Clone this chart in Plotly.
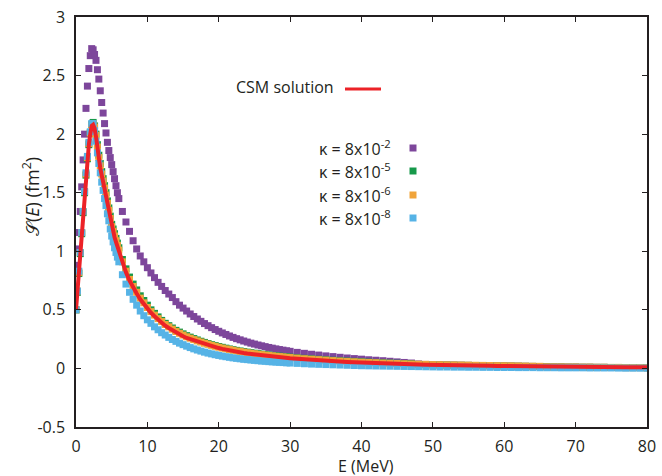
import plotly.graph_objects as go

# ---------------- data ----------------
E = [0.0,0.2,0.4,0.6,0.8,1.0,1.2,1.4,1.6,1.8,2.0,2.2,2.4,2.6,2.8,3.0,3.2,3.4,3.6,3.8,
     4.0,4.2,4.4,4.6,4.8,5.0,5.2,5.4,5.6,5.8,6.0,
     6.5,7.0,7.5,8.0,8.5,9.0,9.5,10.0,10.5,11.0,11.5,12.0,12.5,13.0,13.5,14.0,14.5,15.0,
     15.5,16.0,16.5,17.0,17.5,18.0,18.5,19.0,19.5,20.0,20.5,21.0,21.5,22.0,22.5,23.0,23.5,
     24.0,24.5,25.0,25.5,26.0,26.5,27.0,27.5,28.0,28.5,29.0,29.5,30.0,
     31,32,33,34,35,36,37,38,39,40,41,42,43,44,45,46,47,48,49,50,
     51,52,53,54,55,56,57,58,59,60,61,62,63,64,65,66,67,68,69,70,
     71,72,73,74,75,76,77,78,79,80]

S_csm = [0.50,0.66,0.82,0.98,1.15,1.33,1.50,1.65,1.79,1.91,2.00,2.07,2.08,2.05,1.98,1.88,1.79,1.71,1.65,1.59,
         1.53,1.47,1.40,1.34,1.27,1.20,1.16,1.12,1.08,1.04,1.00,
         0.90,0.82,0.75,0.69,0.64,0.59,0.55,0.51,0.475,0.445,0.415,0.39,0.365,0.345,0.325,0.305,0.29,0.275,
         0.26,0.25,0.238,0.227,0.217,0.207,0.198,0.19,0.182,0.174,0.167,0.16,0.154,0.148,0.142,0.137,0.132,
         0.127,0.123,0.119,0.115,0.111,0.108,0.104,0.101,0.098,0.095,0.092,0.089,0.087,
         0.082,0.077,0.073,0.069,0.065,0.061,0.058,0.055,0.052,0.049,0.047,0.044,0.042,0.040,0.038,0.036,0.035,0.033,0.032,0.030,
         0.029,0.028,0.027,0.026,0.025,0.024,0.023,0.022,0.021,0.020,0.020,0.019,0.018,0.018,0.017,0.016,0.016,0.015,0.015,0.014,
         0.014,0.013,0.013,0.012,0.012,0.012,0.011,0.011,0.010,0.010]

S_k2 = [0.88,1.02,1.16,1.34,1.55,1.78,2.00,2.22,2.41,2.56,2.67,2.73,2.72,2.68,2.63,2.55,2.47,2.37,2.27,2.18,
        2.09,2.01,1.93,1.86,1.80,1.74,1.68,1.62,1.56,1.50,1.45,
        1.34,1.25,1.17,1.09,1.02,0.96,0.91,0.86,0.815,0.775,0.735,0.70,0.665,0.635,0.605,0.57,0.54,0.515,
        0.49,0.465,0.443,0.422,0.402,0.383,0.365,0.348,0.332,0.317,0.303,0.29,0.277,0.265,0.254,0.244,0.234,
        0.225,0.216,0.208,0.2,0.193,0.186,0.179,0.173,0.167,0.161,0.156,0.151,0.146,
        0.137,0.129,0.121,0.114,0.107,0.101,0.095,0.089,0.084,0.079,0.074,0.070,0.066,0.061,0.056,0.051,0.046,0.038,0.034,0.031,
        0.030,0.029,0.028,0.027,0.026,0.025,0.024,0.023,0.022,0.021,0.020,0.019,0.018,0.017,0.016,0.013,0.012,0.012,0.011,0.011,
        0.010,0.010,0.009,0.009,0.008,0.008,0.007,0.007,0.007,0.006]

S_k5 = [0.50,0.65,0.81,0.98,1.15,1.33,1.50,1.65,1.79,1.91,2.01,2.08,2.10,2.07,2.00,1.91,1.82,1.75,1.68,1.62,
        1.56,1.50,1.43,1.37,1.30,1.23,1.19,1.15,1.11,1.07,1.03,
        0.93,0.85,0.78,0.72,0.67,0.62,0.58,0.54,0.50,0.47,0.44,0.41,0.385,0.365,0.345,0.325,0.31,0.295,
        0.28,0.267,0.255,0.243,0.232,0.222,0.212,0.203,0.195,0.187,0.18,0.173,0.166,0.16,0.154,0.149,0.144,
        0.139,0.134,0.13,0.126,0.122,0.118,0.114,0.111,0.108,0.105,0.102,0.099,0.096,
        0.091,0.086,0.082,0.078,0.074,0.070,0.066,0.063,0.060,0.057,0.054,0.051,0.049,0.046,0.044,0.042,0.040,0.034,0.033,0.031,
        0.030,0.029,0.028,0.027,0.026,0.025,0.024,0.023,0.022,0.021,0.020,0.019,0.018,0.017,0.016,0.013,0.012,0.012,0.011,0.011,
        0.010,0.010,0.009,0.009,0.008,0.008,0.007,0.007,0.007,0.006]

S_k6 = [0.50,0.66,0.82,0.99,1.16,1.34,1.51,1.66,1.80,1.92,2.01,2.08,2.09,2.06,1.99,1.89,1.80,1.73,1.66,1.60,
        1.54,1.48,1.41,1.35,1.28,1.21,1.17,1.13,1.09,1.05,1.01,
        0.91,0.83,0.76,0.70,0.65,0.60,0.56,0.52,0.485,0.455,0.425,0.40,0.375,0.355,0.335,0.315,0.30,0.285,
        0.27,0.258,0.246,0.235,0.225,0.215,0.206,0.197,0.189,0.181,0.174,0.167,0.161,0.155,0.149,0.144,0.139,
        0.134,0.129,0.125,0.121,0.117,0.114,0.110,0.107,0.104,0.101,0.098,0.095,0.093,
        0.088,0.083,0.079,0.075,0.071,0.067,0.063,0.060,0.057,0.054,0.051,0.049,0.046,0.044,0.042,0.040,0.038,0.036,0.035,0.033,
        0.032,0.031,0.030,0.029,0.028,0.027,0.026,0.025,0.024,0.023,0.022,0.021,0.020,0.019,0.018,0.014,0.013,0.013,0.012,0.012,
        0.011,0.011,0.010,0.010,0.009,0.009,0.008,0.008,0.008,0.007]

S_k8 = [0.50,0.66,0.83,0.99,1.16,1.34,1.51,1.67,1.81,1.93,2.02,2.09,2.09,2.03,1.94,1.84,1.75,1.67,1.59,1.52,
        1.45,1.39,1.32,1.26,1.19,1.13,1.08,1.03,0.99,0.95,0.91,
        0.80,0.72,0.65,0.59,0.54,0.49,0.45,0.415,0.385,0.355,0.33,0.305,0.285,0.265,0.247,0.231,0.216,0.203,
        0.19,0.178,0.167,0.157,0.148,0.139,0.131,0.124,0.117,0.111,0.105,0.1,0.095,0.09,0.086,0.082,0.078,
        0.075,0.072,0.069,0.066,0.063,0.061,0.058,0.056,0.054,0.052,0.05,0.048,0.046,
        0.043,0.040,0.037,0.035,0.033,0.031,0.029,0.027,0.025,0.023,0.022,0.021,0.020,0.019,0.018,0.017,0.016,0.015,0.014,0.013,
        0.012,0.012,0.011,0.011,0.010,0.010,0.009,0.009,0.008,0.008,0.008,0.007,0.007,0.007,0.006,0.006,0.006,0.005,0.005,0.005,
        0.005,0.004,0.004,0.004,0.004,0.003,0.003,0.003,0.003,0.003]

series_labels = ["κ = 8x10<sup>-2</sup>", "κ = 8x10<sup>-5</sup>", "κ = 8x10<sup>-6</sup>", "κ = 8x10<sup>-8</sup>"]
series_colors = ["#7d469b", "#16994a", "#f0a43a", "#56b3e6"]
csm_label = "CSM solution"
csm_color = "#ec2227"

x_ticks = [0, 10, 20, 30, 40, 50, 60, 70, 80]
y_ticks = [-0.5, 0, 0.5, 1, 1.5, 2, 2.5, 3]
y_ticktext = ["-0.5", "0", "0.5", "1", "1.5", "2", "2.5", "3"]

# ---------------- figure ----------------
FONT = "Open Sans"
INK = "#231f20"
fig = go.Figure()

for ys, col in zip([S_k2, S_k5, S_k6, S_k8], series_colors):
    n = min(len(E), len(ys))
    fig.add_trace(go.Scatter(x=E[:n], y=ys[:n], mode="markers", showlegend=False,
                             marker=dict(symbol="square", size=7, color=col, line=dict(width=0))))

n = min(len(E), len(S_csm))
fig.add_trace(go.Scatter(x=E[:n], y=S_csm[:n], mode="lines", showlegend=False,
                         line=dict(color=csm_color, width=4)))

# plot-area pixel geometry (for custom legend placement)
L, R, T, B = 76, 647, 17, 427
W, H = R - L, B - T
def px(x): return (x - L) / W
def py(y): return (B - y) / H

annotations = []
shapes = []
annotations.append(dict(x=px(336), y=py(87), xref="paper", yref="paper", text=csm_label,
                        showarrow=False, xanchor="right", yanchor="middle",
                        font=dict(family=FONT, size=16, color=INK)))
shapes.append(dict(type="line", xref="paper", yref="paper", x0=px(345), x1=px(381),
                   y0=py(89), y1=py(89), line=dict(color=csm_color, width=3)))
rows = [148, 171, 195, 218]
for lab, col, ry in zip(series_labels, series_colors, rows):
    annotations.append(dict(x=px(393), y=py(ry), xref="paper", yref="paper", text=lab,
                            showarrow=False, xanchor="right", yanchor="middle",
                            font=dict(family=FONT, size=16, color=INK)))
    shapes.append(dict(type="rect", xref="paper", yref="paper", x0=px(409.5), x1=px(416.5),
                       y0=py(ry + 3.5), y1=py(ry - 3.5), fillcolor=col, line=dict(width=0)))

annotations.append(dict(x=px(31), y=py(197), xref="paper", yref="paper",
                        text="𝒮(<i>E</i>) (fm<sup>2</sup>)", textangle=-90, showarrow=False,
                        xanchor="center", yanchor="middle",
                        font=dict(family=FONT, size=18, color=INK)))
annotations.append(dict(x=px(366), y=py(466), xref="paper", yref="paper",
                        text="E (MeV)", showarrow=False, xanchor="center", yanchor="middle",
                        font=dict(family=FONT, size=16, color=INK)))

axis_common = dict(showline=True, linecolor=INK, linewidth=1.5, mirror="ticks",
                   ticks="inside", ticklen=5, tickwidth=1, tickcolor=INK,
                   showgrid=False, zeroline=False, automargin=False,
                   tickfont=dict(family=FONT, size=16, color=INK))

fig.update_layout(
    width=662, height=476,
    margin=dict(l=L, r=662 - R, t=T, b=476 - B, autoexpand=False),
    paper_bgcolor="white", plot_bgcolor="white",
    xaxis=dict(range=[0, 80], tickvals=x_ticks, ticklabelstandoff=4, **axis_common),
    yaxis=dict(range=[-0.5, 3], tickvals=y_ticks, ticktext=y_ticktext, ticklabelstandoff=6,
               **axis_common),
    annotations=annotations, shapes=shapes,
    showlegend=False,
)

fig.write_html("out.html")
